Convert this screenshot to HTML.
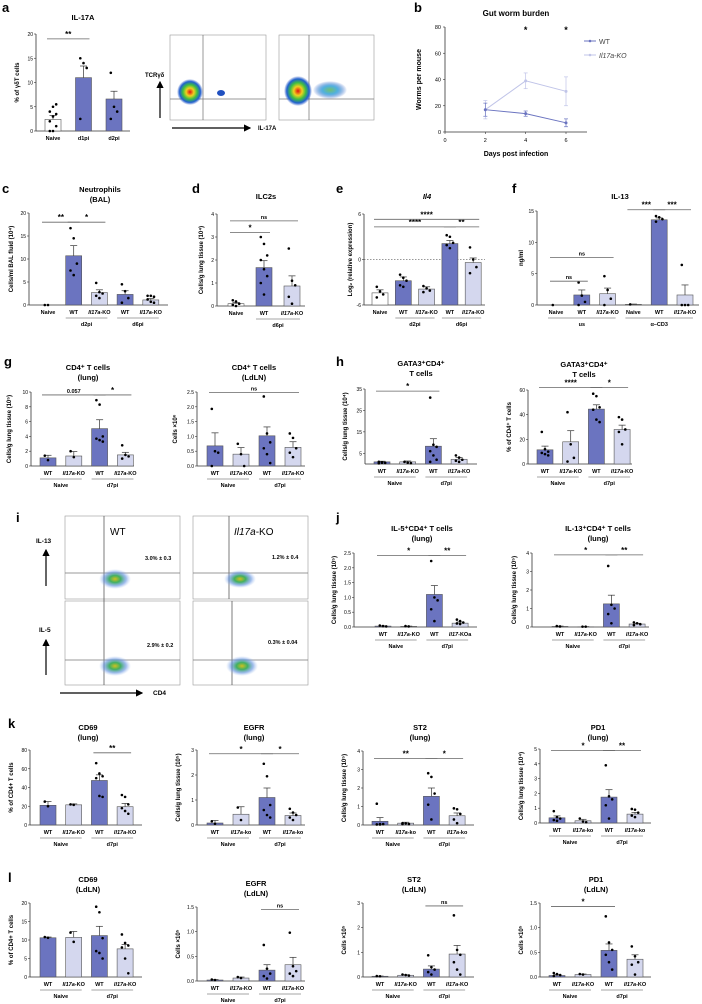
<!DOCTYPE html>
<html><head><meta charset="utf-8"><style>
html,body{margin:0;padding:0;background:#fff}
svg{display:block;font-family:"Liberation Sans",Arial,sans-serif}
</style></head><body>
<svg id="fig" width="702" height="1004" viewBox="0 0 702 1004" xmlns="http://www.w3.org/2000/svg">
<defs>
<radialGradient id="blob" cx="50%" cy="50%" r="50%">
<stop offset="0%" stop-color="#e01010"/><stop offset="30%" stop-color="#f0d020"/><stop offset="55%" stop-color="#40c040"/><stop offset="80%" stop-color="#2060d0"/><stop offset="100%" stop-color="#2050c0" stop-opacity="0"/></radialGradient>
<radialGradient id="blob2" cx="50%" cy="50%" r="50%">
<stop offset="0%" stop-color="#70c070"/><stop offset="45%" stop-color="#50b0e0"/><stop offset="100%" stop-color="#2050c0" stop-opacity="0"/></radialGradient>
<radialGradient id="dots" cx="50%" cy="50%" r="50%">
<stop offset="0%" stop-color="#d0c020"/><stop offset="35%" stop-color="#40b060"/><stop offset="70%" stop-color="#6090e0" stop-opacity="0.6"/><stop offset="100%" stop-color="#a0c0f0" stop-opacity="0"/></radialGradient>
<marker id="arr" markerWidth="6" markerHeight="6" refX="5" refY="3" orient="auto"><path d="M0,0 L6,3 L0,6 z" fill="#000"/></marker>
</defs>
<g id="static" font-weight="bold">
<text x="2" y="12" font-size="13">a</text>
<text x="414" y="12" font-size="13">b</text>
<text x="2" y="193" font-size="13">c</text>
<text x="192" y="193" font-size="13">d</text>
<text x="336" y="193" font-size="13">e</text>
<text x="512" y="193" font-size="13">f</text>
<text x="4" y="366" font-size="13">g</text>
<text x="336" y="366" font-size="13">h</text>
<text x="16" y="522" font-size="13">i</text>
<text x="336" y="522" font-size="13">j</text>
<text x="8" y="728" font-size="13">k</text>
<text x="8" y="882" font-size="13">l</text>
</g>
<!-- panel a flow plots -->
<g>
<rect x="170" y="35" width="96" height="85" fill="#fff" stroke="#999" stroke-width="0.6"/>
<rect x="279" y="35" width="95" height="85" fill="#fff" stroke="#999" stroke-width="0.6"/>
<line x1="203" y1="35" x2="203" y2="120" stroke="#555" stroke-width="0.6"/>
<line x1="170" y1="99" x2="266" y2="99" stroke="#777" stroke-width="0.8"/>
<line x1="309" y1="35" x2="309" y2="120" stroke="#555" stroke-width="0.6"/>
<line x1="279" y1="99" x2="374" y2="99" stroke="#777" stroke-width="0.8"/>
<ellipse cx="190" cy="92" rx="13" ry="13" fill="url(#blob)"/>
<ellipse cx="221" cy="93" rx="4" ry="3" fill="#2050c0"/>
<ellipse cx="298" cy="91" rx="14" ry="15" fill="url(#blob)"/>
<ellipse cx="330" cy="90" rx="17" ry="9" fill="url(#blob2)"/>
<text x="145" y="77" font-size="6" font-weight="bold">TCRγδ</text>
<line x1="160" y1="118" x2="160" y2="82" stroke="#000" stroke-width="1.2" marker-end="url(#arr)"/>
<line x1="172" y1="128" x2="250" y2="128" stroke="#000" stroke-width="1.2" marker-end="url(#arr)"/>
<text x="258" y="130" font-size="6" font-weight="bold">IL-17A</text>
</g>
<!-- panel i flow plots -->
<g>
<rect x="65" y="516" width="115" height="83" fill="#fff" stroke="#999" stroke-width="0.6"/>
<rect x="65" y="601" width="115" height="84" fill="#fff" stroke="#999" stroke-width="0.6"/>
<rect x="193" y="516" width="115" height="83" fill="#fff" stroke="#999" stroke-width="0.6"/>
<rect x="193" y="601" width="115" height="84" fill="#fff" stroke="#999" stroke-width="0.6"/>
<line x1="104" y1="516" x2="104" y2="685" stroke="#444" stroke-width="0.7"/>
<line x1="229" y1="516" x2="229" y2="599" stroke="#444" stroke-width="0.7"/>
<line x1="232" y1="601" x2="232" y2="685" stroke="#444" stroke-width="0.7"/>
<line x1="65" y1="573" x2="180" y2="573" stroke="#777" stroke-width="0.8"/>
<line x1="193" y1="573" x2="308" y2="573" stroke="#777" stroke-width="0.8"/>
<line x1="65" y1="660" x2="180" y2="660" stroke="#777" stroke-width="0.8"/>
<line x1="193" y1="660" x2="308" y2="660" stroke="#777" stroke-width="0.8"/>
<ellipse cx="115" cy="579" rx="16" ry="10" fill="url(#dots)"/>
<ellipse cx="240" cy="579" rx="16" ry="9" fill="url(#dots)"/>
<ellipse cx="115" cy="666" rx="16" ry="10" fill="url(#dots)"/>
<ellipse cx="242" cy="666" rx="16" ry="10" fill="url(#dots)"/>
<text x="110" y="535" font-size="10">WT</text>
<text x="234" y="535" font-size="10"><tspan font-style="italic">Il17a</tspan>-KO</text>
<text x="145" y="560" font-size="5.5" font-weight="bold">3.0% ± 0.3</text>
<text x="272" y="559" font-size="5.5" font-weight="bold">1.2% ± 0.4</text>
<text x="147" y="647" font-size="5.5" font-weight="bold">2.9% ± 0.2</text>
<text x="268" y="744" font-size="5.5" font-weight="bold" transform="translate(0,-100)">0.3% ± 0.04</text>
<text x="36" y="543" font-size="6.5" font-weight="bold">IL-13</text>
<text x="39" y="632" font-size="6.5" font-weight="bold">IL-5</text>
<line x1="46" y1="586" x2="46" y2="550" stroke="#000" stroke-width="1.2" marker-end="url(#arr)"/>
<line x1="46" y1="675" x2="46" y2="640" stroke="#000" stroke-width="1.2" marker-end="url(#arr)"/>
<line x1="60" y1="693" x2="142" y2="693" stroke="#000" stroke-width="1.2" marker-end="url(#arr)"/>
<text x="153" y="695" font-size="6.5" font-weight="bold">CD4</text>
</g>
<g id="charts"></g>
</svg>
<script>
// ---------- data ----------
const aCats=["Naive","d1pi","d2pi"], aMeans=[2.4,11,6.6], aErr=[0.8,2.4,1.6], aPts=[[0,0,1,2,3,3.5,4,5,5.5],[15,14,13,2.5],[12,5,4,2.5]];
const bDays=[2,4,6], bWT=[17,14,7], bWTerr=[5,2,3], bKO=[17,39,31], bKOerr=[7,6,11];
const cCats=["Naive","WT","Il17a-KO","WT","Il17a-KO"], cMeans=[0,10.7,2.7,2.3,1.1], cErr=[0,2.2,0.6,0.8,0.3], cPts=[[0,0],[16.7,14.5,9,7.5,6.5],[4.8,2.8,2.5,2,1.5],[4.5,3,1.5,0.5],[2,2,1.8,1.2,0.7,0.5]];
const dCats=["Naive","WT","Il17a-KO"], dMeans=[0.1,1.67,0.87], dErr=[0.05,0.3,0.44], dPts=[[0.25,0.2,0.1,0.05,0],[3,2.7,2.2,2,1.6,1.3,1,0.5],[2.5,1.1,0.9,0.4,0.1]];
const eCats=["Naive","WT","Il17a-KO","WT","Il17a-KO"], eMeans=[-4.4,-2.8,-3.9,2.1,-0.4], eErr=[0.4,0.5,0.3,0.4,0.6], ePts=[[-3.6,-4.2,-4.6,-5],[-2,-2.4,-2.8,-3.4,-3.6],[-3.5,-3.8,-4.1,-4.3],[3.2,3,2.2,1.9,1.5],[1.6,0,-1,-1.8]];
const fCats=["Naive","WT","Il17a-KO","Naive","WT","Il17a-KO"], fMeans=[0,1.6,1.8,0.1,13.6,1.6], fErr=[0,0.8,0.9,0.05,0.3,1.6], fPts=[[0],[3.6,1.5,0.5,0],[4.6,2.4,1,0],[0.1],[14.2,14,13.7,13.3],[6.4,0,0,0]];
const g1Cats=["WT","Il17a-KO","WT","Il17a-KO"], g1Means=[1.1,1.35,5.05,1.5], g1Err=[0.35,0.6,1.2,0.35], g1Pts=[[1.4,0.8],[2,1.2],[8.9,8.3,4,3.7,3.5,3.3],[2.8,1.5,1.3,1]];
const g2Cats=g1Cats, g2Means=[0.68,0.4,1.02,0.63], g2Err=[0.44,0.22,0.3,0.19], g2Pts=[[1.93,0.5,0.45,0],[0.75,0.4,0],[2.35,1.1,0.8,0.6,0.4,0.1],[1.1,0.95,0.6,0.45,0.3]];
const h1Cats=g1Cats, h1Means=[1,1,8.3,2.2], h1Err=[0.3,0.4,3.5,0.8], h1Pts=[[1,0.8,0.5,0.3,0.6],[1,0.6,0.4],[31,9,8,6,4,2,1],[4,3,2,1.5,1]];
const h2Cats=g1Cats, h2Means=[11.5,18,44.5,28], h2Err=[3,9,3.5,3.5], h2Pts=[[26,12,10,9,8,7],[42,16,5,2],[57,55,46,44,36,34],[38,36,28,26,16]];
const j1Cats=["WT","Il17a-KO","WT","Il17-KOa"], j1Means=[0.03,0.02,1.1,0.13], j1Err=[0.01,0.01,0.3,0.04], j1Pts=[[0.05,0.03,0.02],[0.03,0.02],[2.23,1.0,0.9,0.6,0.2],[0.25,0.2,0.15,0.12,0.1]];
const j2Cats=["WT","Il17a-KO","WT","Il17a-KO"], j2Means=[0.03,0.01,1.25,0.16], j2Err=[0.02,0.01,0.47,0.04], j2Pts=[[0.05,0.03],[0.02,0.02],[3.3,1.2,1.0,0.7,0.2],[0.25,0.2,0.15,0.1]];
const k1Cats=["WT","Il17a-KO","WT","Il17a-KO"], k1Means=[21,21.5,47.5,19.5], k1Err=[4,1,6,3.5], k1Pts=[[25,20],[22,21.5],[66,55,52,50,31,30],[32,30,22,18,15,12]];
const k2Cats=["WT","Il17a-ko","WT","Il17a-ko"], k2Means=[0.08,0.43,1.1,0.38], k2Err=[0.1,0.3,0.38,0.1], k2Pts=[[0.15,0.05],[0.7,0.2],[2.45,1.95,0.8,0.6,0.4,0.3],[0.65,0.5,0.4,0.3,0.2]];
const k3Cats=k2Cats, k3Means=[0.2,0.1,1.55,0.5], k3Err=[0.2,0.05,0.45,0.15], k3Pts=[[1.15,0.05,0.05,0.03,0.03],[0.1,0.08,0.05,0.05],[2.8,2.6,1.7,1.1,0.3],[0.9,0.85,0.6,0.3,0.1]];
const k4Cats=k2Cats, k4Means=[0.35,0.15,1.75,0.6], k4Err=[0.13,0.1,0.5,0.12], k4Pts=[[0.8,0.4,0.3,0.2,0.15],[0.3,0.1,0.05],[3.9,1.8,1.6,1.2,0.3],[0.95,0.9,0.7,0.5,0.4]];
const l1Cats=k1Cats, l1Means=[10.6,10.7,11.2,7.6], l1Err=[0.2,1.6,2.5,1.2], l1Pts=[[10.8,10.6],[12,9.5],[19,17.5,10.5,7,6.5,5],[11.5,9.2,8.5,8,5,1]];
const l2Cats=k1Cats, l2Means=[0.02,0.06,0.22,0.33], l2Err=[0.01,0.02,0.11,0.15], l2Pts=[[0.03,0.02],[0.08,0.06],[0.73,0.25,0.15,0.1,0.05],[0.98,0.3,0.2,0.15,0.1]];
const l3Cats=k1Cats, l3Means=[0.03,0.07,0.32,0.93], l3Err=[0.01,0.02,0.13,0.35], l3Pts=[[0.04,0.03],[0.1,0.08,0.06],[0.88,0.4,0.3,0.2,0.1],[2.5,1.1,0.9,0.6,0.3,0.1]];
const l4Cats=k1Cats, l4Means=[0.03,0.05,0.54,0.36], l4Err=[0.02,0.01,0.13,0.09], l4Pts=[[0.08,0.06,0.04,0.02],[0.06,0.05],[1.23,0.7,0.55,0.45,0.3,0.15],[0.62,0.42,0.3,0.25,0.05]];

const DARK="#6b74c0", LIGHT="#d4d7ee", NS="http://www.w3.org/2000/svg";
const root=document.getElementById('charts');
function el(tag,attrs,parent,txt){const e=document.createElementNS(NS,tag);for(const k in attrs)e.setAttribute(k,attrs[k]);if(txt!==undefined)e.textContent=txt;(parent||root).appendChild(e);return e;}
function catLabel(t,x,y,g,fs){
  const e=el('text',{x:x,y:y,'font-size':fs||5.5,'text-anchor':'middle','font-weight':'bold'},g);
  
  
  if(/^Il17/.test(t)){const i=t.indexOf('-');el('tspan',{'font-style':'italic'},e,t.slice(0,i));el('tspan',{},e,t.slice(i));}else e.textContent=t;
}
function bar(c){
  const g=el('g',{});
  
  
  const y=v=>c.yb-(v-c.vmin)/(c.vmax-c.vmin)*(c.yb-c.yt);
  const x=i=>c.c0+i*c.step;
  // title
  c.title.forEach((t,i)=>{const tt=el('text',{x:c.tx,y:c.ty+i*10,'font-size':7.5,'text-anchor':'middle','font-weight':'bold','font-style':c.titleItalic?'italic':'normal'},g,t);
    
    });
  // axes
  el('line',{x1:c.x0,y1:c.yt,x2:c.x0,y2:c.yb,stroke:'#333','stroke-width':0.8},g);
  el('line',{x1:c.x0,y1:c.yb,x2:c.x1,y2:c.yb,stroke:'#333','stroke-width':0.8},g);
  c.ticks.forEach(v=>{el('line',{x1:c.x0-2,y1:y(v),x2:c.x0,y2:y(v),stroke:'#333','stroke-width':0.6},g);
    const t=el('text',{x:c.x0-3,y:y(v)+2,'font-size':5,'text-anchor':'end'},g,c.fmt?c.fmt(v):v);
    
    });
  const yl=el('text',{x:0,y:0,'font-size':6,'font-weight':'bold','text-anchor':'middle',transform:`translate(${c.x0-c.ylo},${(c.yt+c.yb)/2}) rotate(-90)`},g,c.ylab);
  
  
  if(c.zero!==undefined) el('line',{x1:c.x0,y1:y(c.zero),x2:c.x1,y2:y(c.zero),stroke:'#333','stroke-width':0.6,'stroke-dasharray':'1.5,1.5'},g);
  c.means.forEach((m,i)=>{
    const k=c.kinds[i], fill=k=='n'?'#fff':(k=='w'?DARK:LIGHT);
    const top=y(m), w=16;
    if(c.means[i]>c.vmin){const r=el('rect',{x:x(i)-w/2,y:top,width:w,height:Math.max(0,c.yb-top),fill:fill,stroke:'#555','stroke-width':0.6},g);
      
      }
    const e=c.err[i];
    if(e>0){el('line',{x1:x(i),y1:top,x2:x(i),y2:y(m+e),stroke:'#333','stroke-width':0.7},g);
      el('line',{x1:x(i)-3.5,y1:y(m+e),x2:x(i)+3.5,y2:y(m+e),stroke:'#333','stroke-width':0.7},g);}
    const pts=c.pts[i];
    pts.forEach((p,j)=>{const off=(j%3-1)*3.2;const d=el('circle',{cx:x(i)+off,cy:y(p),r:1.3,fill:'#000'},g);
      
      });
    catLabel(c.cats[i],x(i),c.yb+9,g);
  });
  (c.groups||[]).forEach(gr=>{const a=x(gr[0])-8,b=x(gr[1])+8;
    el('line',{x1:a,y1:c.yb+13,x2:b,y2:c.yb+13,stroke:'#888','stroke-width':0.8},g);
    const t=el('text',{x:(a+b)/2,y:c.yb+21,'font-size':5.5,'text-anchor':'middle','font-weight':'bold'},g,gr[2]);
    
    });
  (c.sig||[]).forEach(s=>{const a=x(s[0])-6,b=x(s[1])+6,yy=y(s[3]);
    el('line',{x1:a,y1:yy,x2:b,y2:yy,stroke:'#666','stroke-width':0.8},g);
    const t=el('text',{x:(a+b)/2,y:yy-2,'font-size':s[2]=='ns'||s[2]=='0.057'?5.5:8,'text-anchor':'middle','font-weight':'bold'},g,s[2]);
    
    });
}
const NWK=['w','k','w','k'];
const G4=[[0,1,'Naive'],[2,3,'d7pi']];
bar({name:'chart-a-il17a',x0:36,x1:130,yb:131,yt:34,vmin:0,vmax:20,ticks:[0,5,10,15,20],ylab:'% of γδT cells',ylo:17,c0:53,step:30.5,cats:aCats,means:aMeans,err:aErr,pts:aPts,kinds:['n','w','w'],title:['IL-17A'],tx:83,ty:20,sig:[[0,1,'**',19]]});
bar({name:'chart-c-neutrophils',x0:29,x1:168,yb:305,yt:213,vmin:0,vmax:20,ticks:[0,5,10,15,20],ylab:'Cells/ml BAL fluid (10⁴)',ylo:16,c0:48,step:25.7,cats:cCats,means:cMeans,err:cErr,pts:cPts,kinds:['n','w','k','w','k'],title:['Neutrophils','(BAL)'],tx:100,ty:192,groups:[[1,2,'d2pi'],[3,4,'d6pi']],sig:[[0,1,'**',18],[1,2,'*',18]]});
bar({name:'chart-d-ilc2s',x0:217,x1:305,yb:306,yt:214,vmin:0,vmax:4,ticks:[0,1,2,3,4],ylab:'Cells/g lung tissue (10⁴)',ylo:14,c0:236,step:28,cats:dCats,means:dMeans,err:dErr,pts:dPts,kinds:['n','w','k'],title:['ILC2s'],tx:266,ty:199,groups:[[1,2,'d6pi']],sig:[[0,1,'*',3.2],[0,2,'ns',3.7]]});
bar({name:'chart-e-il4',x0:364,x1:485,yb:305,yt:214,vmin:-6,vmax:6,ticks:[-6,0,6],ylab:'Log₂ (relative expression)',ylo:12,c0:380,step:23.3,cats:eCats,means:eMeans,err:eErr,pts:ePts,kinds:['n','w','k','w','k'],title:['Il4'],titleItalic:true,tx:427,ty:199,zero:0,groups:[[1,2,'d2pi'],[3,4,'d6pi']],sig:[[0,3,'****',4.3],[3,4,'**',4.3],[0,4,'****',5.3]]});
bar({name:'chart-f-il13',x0:537,x1:699,yb:305,yt:211,vmin:0,vmax:15,ticks:[0,5,10,15],ylab:'ng/ml',ylo:14,c0:556,step:25.8,cats:fCats,means:fMeans,err:fErr,pts:fPts,kinds:['n','w','k','n','w','k'],title:['IL-13'],tx:620,ty:199,groups:[[0,2,'us'],[3,5,'α–CD3']],sig:[[0,1,'ns',3.8],[0,2,'ns',7.6],[3,4,'***',15.2],[4,5,'***',15.2]]});
bar({name:'chart-g-cd4-lung',x0:31,x1:134,yb:466,yt:392,vmin:0,vmax:10,ticks:[0,2,4,6,8,10],ylab:'Cells/g lung tissue (10⁵)',ylo:20,c0:48,step:25.8,cats:g1Cats,means:g1Means,err:g1Err,pts:g1Pts,kinds:NWK,title:['CD4⁺ T cells','(lung)'],tx:88,ty:370,groups:G4,sig:[[0,2,'0.057',9.6],[2,3,'*',9.6]]});
bar({name:'chart-g-cd4-ldln',x0:197,x1:305,yb:466,yt:392,vmin:0,vmax:2.5,ticks:[0,0.5,1,1.5,2,2.5],fmt:v=>v.toFixed(1),ylab:'Cells ×10⁶',ylo:20,c0:215,step:26,cats:g2Cats,means:g2Means,err:g2Err,pts:g2Pts,kinds:NWK,title:['CD4⁺ T cells','(LdLN)'],tx:254,ty:370,groups:G4,sig:[[0,3,'ns',2.48]]});
bar({name:'chart-h-gata3-count',x0:365,x1:477,yb:464,yt:389,vmin:0,vmax:35,ticks:[5,15,25,35],ylab:'Cells/g lung tissue (10⁴)',ylo:18,c0:382,step:25.7,cats:h1Cats,means:h1Means,err:h1Err,pts:h1Pts,kinds:NWK,title:['GATA3⁺CD4⁺','T cells'],tx:421,ty:366,groups:G4,sig:[[0,2,'*',34]]});
bar({name:'chart-h-gata3-pct',x0:528,x1:632,yb:464,yt:390,vmin:0,vmax:60,ticks:[0,20,40,60],ylab:'% of CD4⁺ T cells',ylo:17,c0:545,step:25.7,cats:h2Cats,means:h2Means,err:h2Err,pts:h2Pts,kinds:NWK,title:['GATA3⁺CD4⁺','T cells'],tx:584,ty:367,groups:G4,sig:[[0,2,'****',62],[2,3,'*',62]]});
bar({name:'chart-j-il5',x0:354,x1:477,yb:627,yt:553,vmin:0,vmax:2.5,ticks:[0,0.5,1,1.5,2,2.5],fmt:v=>v.toFixed(1),ylab:'Cells/g lung tissue (10⁵)',ylo:18,c0:383,step:25.7,cats:j1Cats,means:j1Means,err:j1Err,pts:j1Pts,kinds:NWK,title:['IL-5⁺CD4⁺ T cells','(lung)'],tx:422,ty:531,groups:G4,sig:[[0,2,'*',2.42],[2,3,'**',2.42]]});
bar({name:'chart-j-il13',x0:532,x1:649,yb:627,yt:553,vmin:0,vmax:4,ticks:[0,1,2,3,4],ylab:'Cells/g lung tissue (10⁵)',ylo:16,c0:560,step:25.7,cats:j2Cats,means:j2Means,err:j2Err,pts:j2Pts,kinds:NWK,title:['IL-13⁺CD4⁺ T cells','(lung)'],tx:598,ty:531,groups:G4,sig:[[0,2,'*',3.9],[2,3,'**',3.9]]});
bar({name:'chart-k-cd69',x0:30,x1:142,yb:825,yt:750,vmin:0,vmax:80,ticks:[0,20,40,60,80],ylab:'% of CD4+ T cells',ylo:17,c0:48,step:25.7,cats:k1Cats,means:k1Means,err:k1Err,pts:k1Pts,kinds:NWK,title:['CD69','(lung)'],tx:88,ty:730,groups:G4,sig:[[2,3,'**',77]]});
bar({name:'chart-k-egfr',x0:197,x1:305,yb:825,yt:750,vmin:0,vmax:3,ticks:[0,1,2,3],ylab:'Cells/g lung tissue (10⁵)',ylo:17,c0:215,step:26,cats:k2Cats,means:k2Means,err:k2Err,pts:k2Pts,kinds:NWK,title:['EGFR','(lung)'],tx:254,ty:730,groups:G4,sig:[[0,2,'*',2.85],[2,3,'*',2.85]]});
bar({name:'chart-k-st2',x0:363,x1:474,yb:825,yt:751,vmin:0,vmax:4,ticks:[0,1,2,3,4],ylab:'Cells/g lung tissue (10⁵)',ylo:17,c0:380,step:25.7,cats:k3Cats,means:k3Means,err:k3Err,pts:k3Pts,kinds:NWK,title:['ST2','(lung)'],tx:420,ty:730,groups:G4,sig:[[0,2,'**',3.6],[2,3,'*',3.6]]});
bar({name:'chart-k-pd1',x0:540,x1:651,yb:823,yt:749,vmin:0,vmax:5,ticks:[0,1,2,3,4,5],ylab:'Cells/g lung tissue (10⁴)',ylo:17,c0:557,step:26,cats:k4Cats,means:k4Means,err:k4Err,pts:k4Pts,kinds:NWK,title:['PD1','(lung)'],tx:598,ty:730,groups:G4,sig:[[0,2,'*',4.9],[2,3,'**',4.9]]});
bar({name:'chart-l-cd69',x0:30,x1:142,yb:977,yt:903,vmin:0,vmax:20,ticks:[0,5,10,15,20],ylab:'% of CD4+ T cells',ylo:17,c0:48,step:25.7,cats:l1Cats,means:l1Means,err:l1Err,pts:l1Pts,kinds:NWK,title:['CD69','(LdLN)'],tx:88,ty:882,groups:G4});
bar({name:'chart-l-egfr',x0:197,x1:305,yb:981,yt:907,vmin:0,vmax:1.5,ticks:[0,0.5,1,1.5],fmt:v=>v.toFixed(1),ylab:'Cells ×10⁵',ylo:17,c0:215,step:26,cats:l2Cats,means:l2Means,err:l2Err,pts:l2Pts,kinds:NWK,title:['EGFR','(LdLN)'],tx:256,ty:886,groups:G4,sig:[[2,3,'ns',1.45]]});
bar({name:'chart-l-st2',x0:363,x1:474,yb:977,yt:903,vmin:0,vmax:3,ticks:[0,1,2,3],ylab:'Cells ×10⁵',ylo:17,c0:380,step:25.7,cats:l3Cats,means:l3Means,err:l3Err,pts:l3Pts,kinds:NWK,title:['ST2','(LdLN)'],tx:414,ty:882,groups:G4,sig:[[2,3,'ns',2.88]]});
bar({name:'chart-l-pd1',x0:540,x1:651,yb:977,yt:903,vmin:0,vmax:1.5,ticks:[0,0.5,1,1.5],fmt:v=>v.toFixed(1),ylab:'Cells ×10⁵',ylo:17,c0:557,step:26,cats:l4Cats,means:l4Means,err:l4Err,pts:l4Pts,kinds:NWK,title:['PD1','(LdLN)'],tx:596,ty:882,groups:G4,sig:[[0,2,'*',1.43]]});

// ---------- panel b line chart ----------
(function(){
  const g=el('g',{});
  
  
  const X0=445,X1=587,YB=132,YT=27, sx=d=>X0+d/6*121, sy=v=>YB-v/80*(YB-YT);
  el('text',{x:516,y:16,'font-size':8,'text-anchor':'middle','font-weight':'bold'},g,'Gut worm burden');
  el('line',{x1:X0,y1:YT,x2:X0,y2:YB,stroke:'#333','stroke-width':0.8},g);
  el('line',{x1:X0,y1:YB,x2:X1,y2:YB,stroke:'#333','stroke-width':0.8},g);
  [0,20,40,60,80].forEach(v=>{el('line',{x1:X0-2,y1:sy(v),x2:X0,y2:sy(v),stroke:'#333','stroke-width':0.6},g);el('text',{x:X0-4,y:sy(v)+2,'font-size':5.5,'text-anchor':'end'},g,v);});
  [0,2,4,6].forEach(v=>{el('line',{x1:sx(v),y1:YB,x2:sx(v),y2:YB+2,stroke:'#333','stroke-width':0.6},g);el('text',{x:sx(v),y:YB+10,'font-size':5.5,'text-anchor':'middle'},g,v);});
  el('text',{x:516,y:156,'font-size':7,'text-anchor':'middle','font-weight':'bold'},g,'Days post infection');
  el('text',{x:0,y:0,'font-size':7,'text-anchor':'middle','font-weight':'bold',transform:`translate(${X0-24},${(YB+YT)/2}) rotate(-90)`},g,'Worms per mouse');
  [[bKO,bKOerr,'#c0c4e8','ko'],[bWT,bWTerr,'#6b74c0','wt']].forEach(s=>{
    const pts=bDays.map((d,i)=>sx(d)+','+sy(s[0][i])).join(' ');
    const pl=el('polyline',{points:pts,fill:'none',stroke:s[2],'stroke-width':1},g);
    
    
    bDays.forEach((d,i)=>{const v=s[0][i],e=s[1][i];
      el('line',{x1:sx(d),y1:sy(v-e),x2:sx(d),y2:sy(v+e),stroke:s[2],'stroke-width':0.7},g);
      el('line',{x1:sx(d)-2,y1:sy(v+e),x2:sx(d)+2,y2:sy(v+e),stroke:s[2],'stroke-width':0.7},g);
      el('line',{x1:sx(d)-2,y1:sy(v-e),x2:sx(d)+2,y2:sy(v-e),stroke:s[2],'stroke-width':0.7},g);
      const c=el('circle',{cx:sx(d),cy:sy(v),r:1.5,fill:s[2]},g);
      
      });
  });
  el('text',{x:sx(4),y:33,'font-size':9,'text-anchor':'middle','font-weight':'bold'},g,'*');
  el('text',{x:sx(6),y:33,'font-size':9,'text-anchor':'middle','font-weight':'bold'},g,'*');
  const lw=el('g',{},g);
  
  
  el('line',{x1:584,y1:41,x2:596,y2:41,stroke:'#6b74c0','stroke-width':1},lw);el('circle',{cx:590,cy:41,r:1.3,fill:'#6b74c0'},lw);
  el('text',{x:599,y:44,'font-size':7,fill:'#444'},lw,'WT');
  el('line',{x1:584,y1:55,x2:596,y2:55,stroke:'#c0c4e8','stroke-width':1},lw);el('circle',{cx:590,cy:55,r:1.3,fill:'#c0c4e8'},lw);
  el('text',{x:599,y:58,'font-size':7,fill:'#444','font-style':'italic'},lw,'Il17a-KO');
})();
</script>
</body></html>
